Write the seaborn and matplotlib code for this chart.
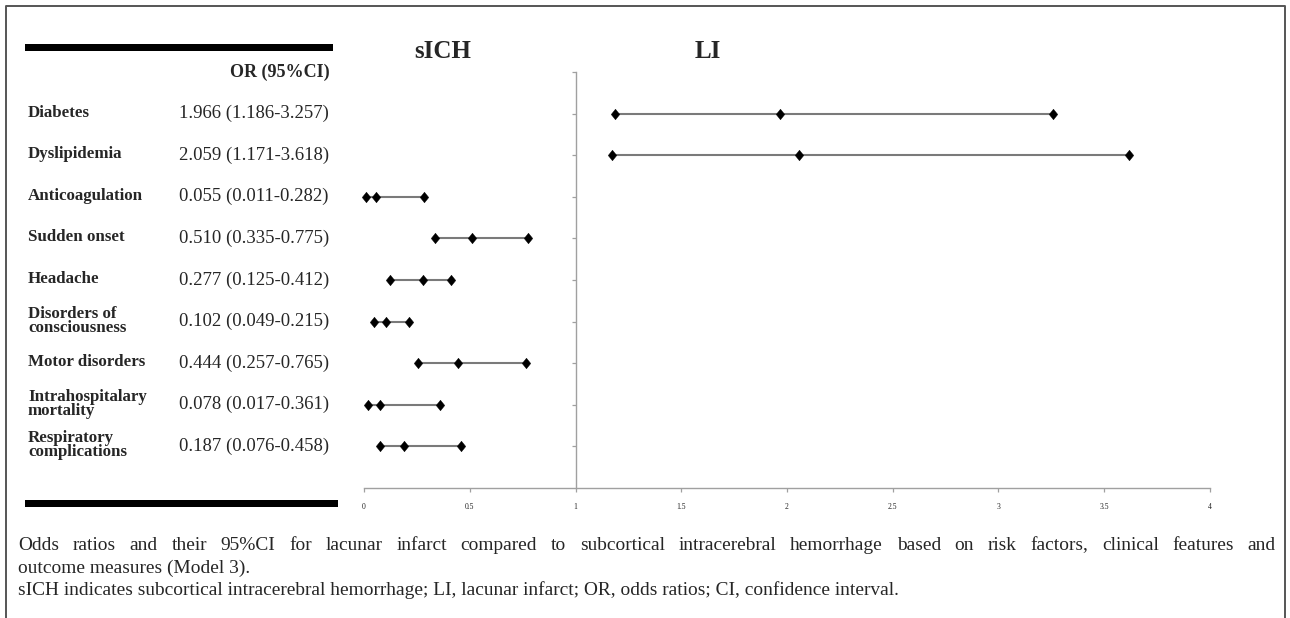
import numpy as np
import pandas as pd
import matplotlib
matplotlib.use("Agg")
import matplotlib.pyplot as plt
import seaborn as sns
from matplotlib.lines import Line2D
from matplotlib.patches import Rectangle
from matplotlib.path import Path

# ---------------- data ----------------
factors = ["Diabetes", "Dyslipidemia", "Anticoagulation", "Sudden onset", "Headache",
           "Disorders of\nconsciousness", "Motor disorders", "Intrahospitalary\nmortality",
           "Respiratory\ncomplications"]
odds_ratio = [1.966, 2.059, 0.055, 0.510, 0.277, 0.102, 0.444, 0.078, 0.187]
ci_low = [1.186, 1.171, 0.011, 0.335, 0.125, 0.049, 0.257, 0.017, 0.076]
ci_high = [3.257, 3.618, 0.282, 0.775, 0.412, 0.215, 0.765, 0.361, 0.458]
or_text = ["1.966 (1.186-3.257)", "2.059 (1.171-3.618)", "0.055 (0.011-0.282)",
           "0.510 (0.335-0.775)", "0.277 (0.125-0.412)", "0.102 (0.049-0.215)",
           "0.444 (0.257-0.765)", "0.078 (0.017-0.361)", "0.187 (0.076-0.458)"]
x_ticks = [0, 0.5, 1, 1.5, 2, 2.5, 3, 3.5, 4]
x_tick_labels = ["0", "0.5", "1", "1.5", "2", "2.5", "3", "3.5", "4"]
group_titles = ["sICH", "LI"]
col_header = "OR (95%CI)"
caption_lines = [
    "Odds ratios and their 95%CI for lacunar infarct compared to subcortical intracerebral hemorrhage based on risk factors, clinical features and",
    "outcome measures (Model 3).",
    "sICH indicates subcortical intracerebral hemorrhage; LI, lacunar infarct; OR, odds ratios; CI, confidence interval.",
]

# long-form table for seaborn
rows = []
for i, f in enumerate(factors):
    for kind, v in (("low", ci_low[i]), ("or", odds_ratio[i]), ("high", ci_high[i])):
        rows.append({"factor": f, "pos": i + 1, "kind": kind, "value": v})
df = pd.DataFrame(rows)

# ---------------- style ----------------
sns.set_theme(style="white")
plt.rcParams["font.family"] = ["Liberation Serif", "DejaVu Serif"]

W, H = 1290, 618
fig = plt.figure(figsize=(W / 100, H / 100), dpi=100)
fig.patch.set_facecolor("white")


def fx(x):
    return x / W


def fy(y):
    return 1 - y / H


def ftext(x, y, s, **kw):
    return fig.text(fx(x), fy(y), s, **kw)


# frame (open at bottom, as cropped)
fig.add_artist(Line2D([fx(6), fx(6), fx(1285), fx(1285)], [fy(H + 5), fy(6), fy(6), fy(H + 5)],
                      transform=fig.transFigure, color="#555555", lw=1.4))

# black rules
fig.add_artist(Rectangle((fx(25), fy(51)), fx(333) - fx(25), fy(44) - fy(51),
                         transform=fig.transFigure, color="black", lw=0))
fig.add_artist(Rectangle((fx(25), fy(507)), fx(338) - fx(25), fy(500) - fy(507),
                         transform=fig.transFigure, color="black", lw=0))

# slightly tall diamond marker
diamond = Path([(0, 1.12), (0.9, 0), (0, -1.12), (-0.9, 0), (0, 1.12)],
               [Path.MOVETO, Path.LINETO, Path.LINETO, Path.LINETO, Path.CLOSEPOLY])

# ---------------- plot ----------------
ax = fig.add_axes([fx(364), fy(488), fx(1210) - fx(364), fy(72) - fy(488)])
ax.set_facecolor("none")
sns.lineplot(data=df, x="value", y="pos", units="factor", estimator=None, sort=False,
             color="#7a7a7a", lw=1.5, ax=ax, legend=False)
sns.scatterplot(data=df, x="value", y="pos", marker=diamond, s=58, color="black",
                edgecolor="black", linewidth=0.3, ax=ax, zorder=3, clip_on=False, legend=False)
ax.set_xlim(0, 4)
ax.set_ylim(10, 0)
ax.set_xlabel("")
ax.set_ylabel("")
for s in ("top", "right"):
    ax.spines[s].set_visible(False)
ax.spines["left"].set_position(("data", 1))
ax.spines["left"].set_color("#a0a0a0")
ax.spines["left"].set_linewidth(1.0)
ax.spines["bottom"].set_color("#a0a0a0")
ax.spines["bottom"].set_linewidth(1.0)
ax.set_yticks(list(range(0, 10)))
ax.set_yticklabels([])
ax.tick_params(axis="y", direction="out", length=3, width=0.9, color="#a0a0a0", left=True)
ax.set_xticks(x_ticks)
ax.set_xticklabels(x_tick_labels, fontsize=5.5, color="#222222")
ax.tick_params(axis="x", direction="out", length=3, width=0.9, color="#a0a0a0", pad=7.5, bottom=True)
ax.grid(False)

# ---------------- texts ----------------
ftext(443, 52, group_titles[0], fontsize=18, fontweight="bold", ha="center", va="center")
ftext(708, 52, group_titles[1], fontsize=18, fontweight="bold", ha="center", va="center")
ftext(330, 72, col_header, fontsize=13, fontweight="bold", ha="right", va="center")

row_y = [72 + 41.6 * (i + 1) for i in range(len(factors))]
for i, f in enumerate(factors):
    ftext(28, row_y[i] - 1, f, fontsize=12.2, fontweight="bold", ha="left", va="center",
          linespacing=0.82)
    ftext(329, row_y[i], or_text[i], fontsize=13.5, ha="right", va="center")

# caption: fit third line to its width, justify first line
renderer = fig.canvas.get_renderer()
cap_fs = 12.5
t = ftext(18, 590, caption_lines[2], fontsize=cap_fs, ha="left", va="center")
w = t.get_window_extent(renderer).width
cap_fs = cap_fs * (880 / w)
t.set_fontsize(cap_fs)
ftext(18, 568, caption_lines[1], fontsize=cap_fs, ha="left", va="center")

words = caption_lines[0].split(" ")
widths = []
for wd in words:
    tt = ftext(0, 0, wd, fontsize=cap_fs, ha="left", va="center")
    widths.append(tt.get_window_extent(renderer).width)
    tt.remove()
gap = (1276 - 18 - sum(widths)) / (len(words) - 1)
x = 18
for wd, wdw in zip(words, widths):
    ftext(x, 546, wd, fontsize=cap_fs, ha="left", va="center")
    x += wdw + gap

fig.savefig("out.png", dpi=100, facecolor="white")
